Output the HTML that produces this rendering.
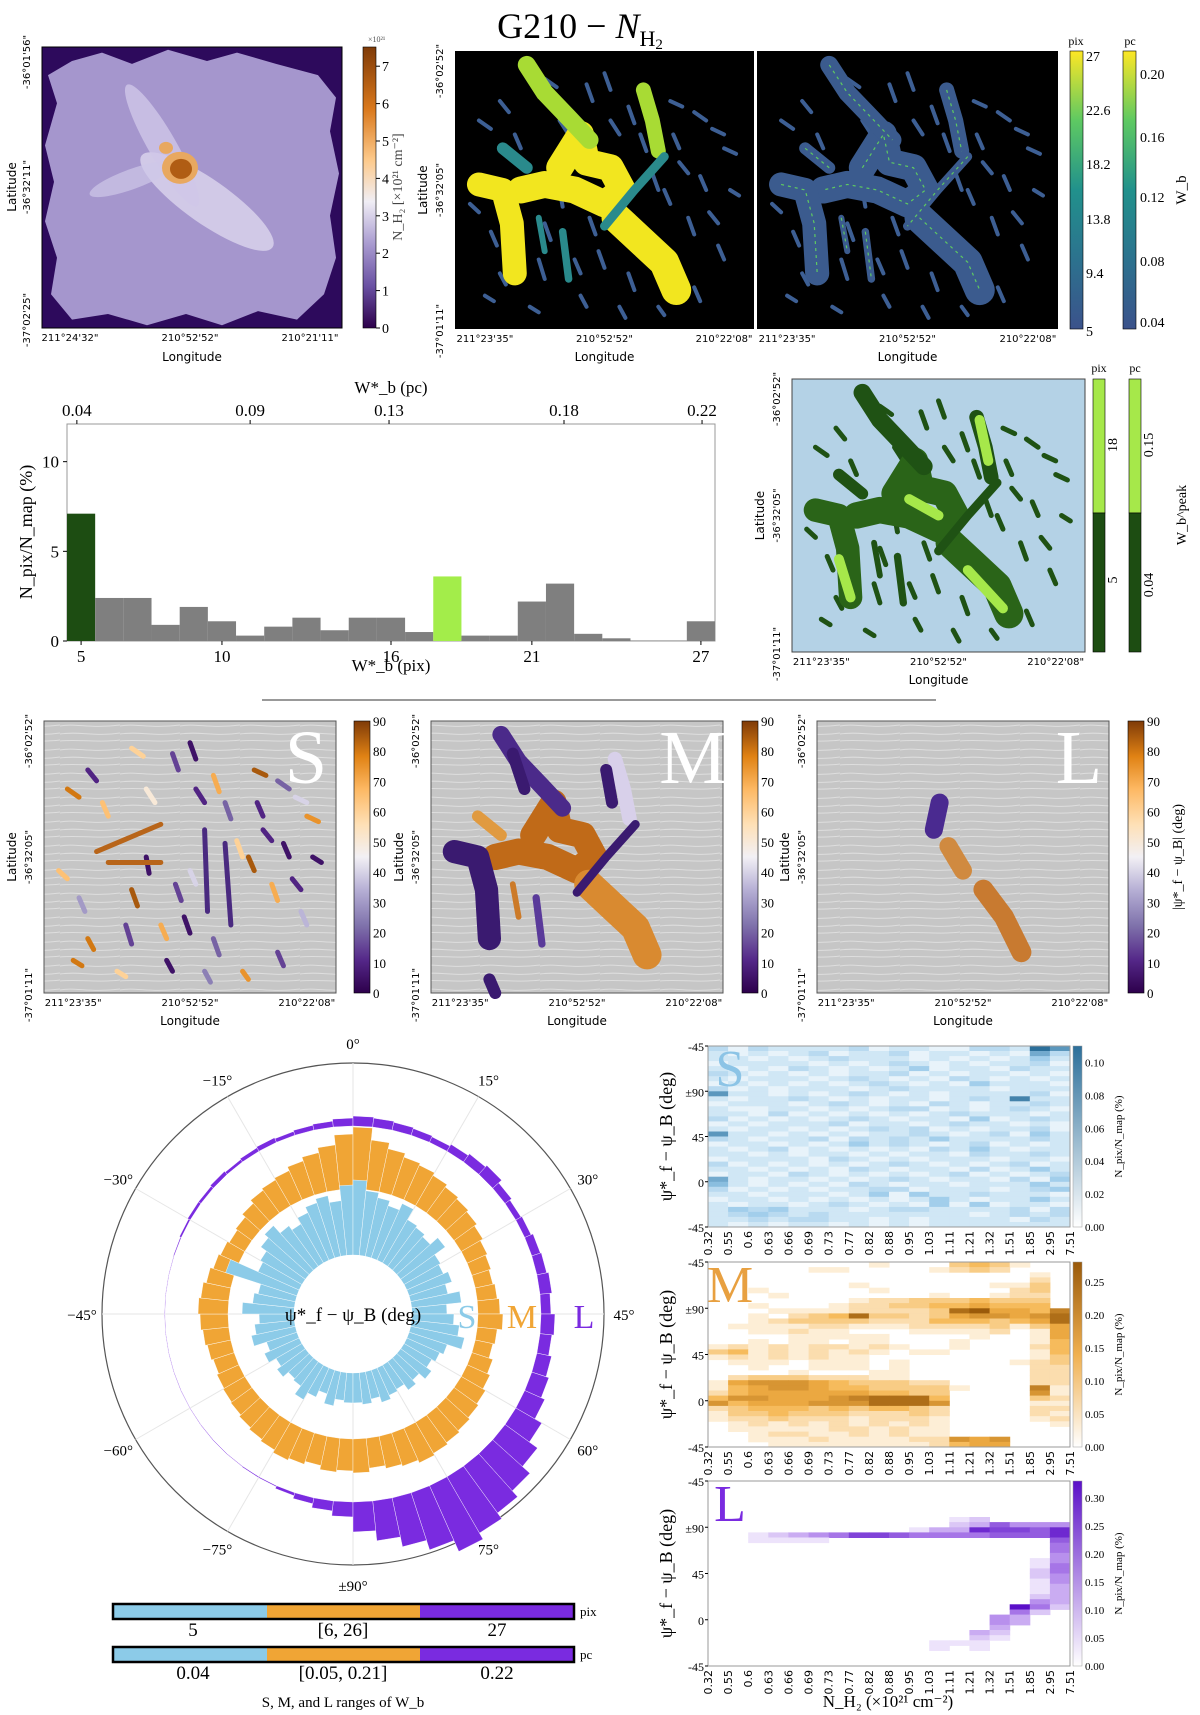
<!DOCTYPE html>
<html><head><meta charset="utf-8">
<style>
html,body{margin:0;padding:0;background:#fff}
svg{display:block}
.serif{font-family:"Liberation Serif","DejaVu Serif",serif}
.sans{font-family:"DejaVu Sans","Liberation Sans",sans-serif}
</style></head>
<body>
<svg id="fig" width="1200" height="1715" viewBox="0 0 1200 1715" xmlns="http://www.w3.org/2000/svg">
<defs>
<linearGradient id="puor" x1="0" y1="1" x2="0" y2="0">
<stop offset="0" stop-color="#2d004b"/><stop offset="0.12" stop-color="#542788"/><stop offset="0.25" stop-color="#8073ac"/><stop offset="0.37" stop-color="#b2abd2"/><stop offset="0.5" stop-color="#f2f0f5"/><stop offset="0.62" stop-color="#fee0b6"/><stop offset="0.75" stop-color="#fdb863"/><stop offset="0.87" stop-color="#e08214"/><stop offset="1" stop-color="#7f3b08"/>
</linearGradient>
<linearGradient id="puor1" x1="0" y1="1" x2="0" y2="0">
<stop offset="0" stop-color="#2d004b"/><stop offset="0.15" stop-color="#6a51a3"/><stop offset="0.3" stop-color="#a99bd0"/><stop offset="0.45" stop-color="#f0eef5"/><stop offset="0.6" stop-color="#fdc98a"/><stop offset="0.78" stop-color="#d9781c"/><stop offset="1" stop-color="#7f3b08"/>
</linearGradient>
<linearGradient id="viridis" x1="0" y1="1" x2="0" y2="0">
<stop offset="0" stop-color="#3b528b"/><stop offset="0.25" stop-color="#2c728e"/><stop offset="0.5" stop-color="#21918c"/><stop offset="0.75" stop-color="#5ec962"/><stop offset="1" stop-color="#fde725"/>
</linearGradient>
<linearGradient id="gBlues" x1="0" y1="1" x2="0" y2="0"><stop offset="0" stop-color="#ffffff"/><stop offset="1" stop-color="#2c6f9a"/></linearGradient>
<linearGradient id="gOr" x1="0" y1="1" x2="0" y2="0"><stop offset="0" stop-color="#ffffff"/><stop offset="0.5" stop-color="#f0b050"/><stop offset="1" stop-color="#9a5a0a"/></linearGradient>
<linearGradient id="gPu" x1="0" y1="1" x2="0" y2="0"><stop offset="0" stop-color="#ffffff"/><stop offset="1" stop-color="#5b10c8"/></linearGradient>
<pattern id="lic" width="60" height="24" patternUnits="userSpaceOnUse">
<rect width="60" height="24" fill="#c6c6c6"/>
<path d="M0 6 C15 3 30 9 60 5 M0 14 C20 11 35 17 60 13 M0 21 C18 19 40 23 60 20" stroke="#dedede" stroke-width="1" fill="none"/>
</pattern>
</defs>

<text class="serif" x="580" y="38" font-size="36" text-anchor="middle">G210 − <tspan font-style="italic">N</tspan><tspan font-size="22" dy="8">H</tspan><tspan font-size="15" dy="3">2</tspan></text>

<g id="row1"></g>
<g id="hist"></g>
<line x1="262" y1="700" x2="936" y2="700" stroke="#999" stroke-width="2"/>
<g id="row3"></g>
<g id="polar"></g>
<g id="legend"></g>
<g id="heat"></g>
</svg>
<script>
// ---------- DATA ----------
const histBins = [5,6,7,8,9,10,11,12,13,14,15,16,17,18,19,20,21,22,23,24,25,26,27];
const histVals = [7.1,2.4,2.4,0.9,1.9,1.1,0.3,0.8,1.3,0.6,1.3,1.3,0.5,3.6,0.3,0.3,2.2,3.2,0.4,0.15,0.03,0.03,1.1];
const histXTicks = [5,10,16,21,27];
const histYTicks = [0,5,10];
const pcTickLabels = ['0.04','0.09','0.13','0.18','0.22'];
const pcTickPix = [4.85,11.0,15.93,22.14,27.04];

const polarS = [30,28,35,25,32,40,30,28,35,30,38,32,45,40,35,52,42,38,75,45,48,55,60,50,45,52,58,62,55,70,75,65,60,55,62,50,48,45,55,42,40,45,38,50,35,42,48,55,40,36,32,38,30,35,28,30,34,28,32,30];
const polarM = [32,34,30,33,35,32,30,28,26,25,24,22,24,26,28,30,28,25,22,20,18,20,24,28,30,32,36,40,45,55,62,50,44,40,38,35,32,30,28,25,22,20,18,20,22,25,20,18,22,25,28,30,32,34,36,38,35,33,30,34];
const polarL = [15,10,6,3,1,1,0,0,0,0,0,0,0,0,0,0,0,0,1,2,3,3,4,3,4,5,4,5,6,8,10,9,8,7,6,8,10,12,8,6,7,9,10,12,10,14,12,15,18,22,30,40,50,58,65,72,60,50,40,30];
const polarLabels = ['0°','15°','30°','45°','60°','75°','±90°','−75°','−60°','−45°','−30°','−15°'];

const heatXLabels = ['0.32','0.55','0.6','0.63','0.66','0.69','0.73','0.77','0.82','0.88','0.95','1.03','1.11','1.21','1.32','1.51','1.85','2.95','7.51'];
const heatYLabels = ['-45','±90','45','0','-45'];
const heatS = ["313222231221133297","212123122312212163","221212322212121242","122221212321212231","212132121241221322","321212122312122121","212221232121321212","121212123212142221","312122212322221222","722121232121222231","212232121221232822","122212321213212232","211221212331212321","221312121212322212","312121232122141232","121222312212322121","212212123231212231","722121212232123142","321223132324222232","122121242321231212","212312121213242122","221212212122132232","122221321212221221","312121212321212312","221212132122131242","122132121212312123","621221212321221314","521212132122122242","312121223312221234","221222124142232221","122121212124212242","212212321214141221","243422212332222313","234323222222212323","223233221212222132","212122121212222222"];
const heatM = ["000000001000343100","000001100001232000","000000000000000010","000000000000000020","000000010000001130","001000001000000230","000100000001001220","000000012233343330","001000122334454440","000111122223895547","001023483323566568","001233332224443458","011112211122223135","001121100011112015","000011111000010015","001011011000100014","121212212100100024","341212121011000014","121212110000000013","011101110100000123","001001110100000022","000010001100000022","023332221100000022","156665433322000022","145665443333100071","245555554433000061","466555678884000032","645556668886000011","234443434432000022","133433322232000021","122322212221000012","012121212121000001","011111221211000000","001221121211000000","001112111122656000","000111111112455000"];
const heatL = ["000000000000000000","000000000000000000","000000000000000000","000000000000000000","000000000000000000","000000000000000000","000000000000000000","000000000000120000","000000000000236444","000000000013387768","001234577655556668","001111000000000006","000000000000000005","000000000000000005","000000000000000004","000000000000000014","000000000000000015","000000000000000025","000000000000000024","000000000000000014","000000000000000013","000000000000000013","000000000000000023","000000000000000043","000000000000000952","000000000000000520","000000000000004300","000000000000004300","000000000000003000","000000000000032000","000000000000021000","000000000001110000","000000000001010000","000000000000000000","000000000000000000","000000000000000000"];

// map shapes (normalized 0-100)
const bigShapes = [
 {pts:[[35,42],[42,30],[44,40],[52,42],[56,50],[50,55],[40,50],[30,48],[22,50]],w:9,c:'y'},
 {pts:[[8,48],[16,50],[19,62],[20,80]],w:8,c:'y'},
 {pts:[[54,60],[62,68],[70,76],[74,86]],w:10,c:'y'},
 {pts:[[24,5],[30,15],[38,24],[45,32]],w:6,c:'g'},
 {pts:[[63,14],[66,25],[68,36]],w:5,c:'g'},
 {pts:[[70,38],[60,50],[50,63]],w:3,c:'t'},
 {pts:[[16,35],[24,42]],w:4,c:'t'},
 {pts:[[36,65],[38,82]],w:2.5,c:'t'},
 {pts:[[28,60],[30,72]],w:2,c:'t'}
];
const smallShapes = [[8,25,12,28],[15,18,18,22],[30,10,34,13],[44,12,46,18],[50,8,52,14],[58,20,60,26],[72,18,76,20],[80,22,84,25],[86,28,90,30],[90,35,94,37],[75,40,78,44],[82,45,84,50],[5,55,8,58],[12,65,14,70],[30,62,32,68],[45,60,47,66],[48,72,50,78],[58,80,60,86],[78,60,80,66],[85,58,88,62],[88,70,90,75],[10,88,13,90],[25,92,28,94],[42,88,44,92],[68,92,70,95],[80,85,82,90],[35,25,38,30],[52,25,55,30],[70,50,72,55],[62,30,64,36],[20,30,22,35],[92,50,95,52],[40,75,42,80],[28,75,30,82],[15,80,17,84],[50,55,52,60],[73,30,75,35],[66,44,68,50],[55,92,57,96],[35,50,36,56]];
const smallAngles = [80,10,60,15,5,70,85,20,40,75,10,5,65,30,85,15,5,20,70,10,35,80,60,5,75,15,50,10,85,20,65,5,70,15,80,40,10,60,25,5];

// ---------- HELPERS ----------
const NS='http://www.w3.org/2000/svg';
function mk(parent,tag,attrs,text){const e=document.createElementNS(NS,tag);for(const k in attrs)e.setAttribute(k,attrs[k]);if(text!==undefined)e.textContent=text;parent.appendChild(e);return e;}
function puor(v){
 const st=[[0,[45,0,75]],[0.12,[84,39,136]],[0.25,[128,115,172]],[0.37,[178,171,210]],[0.5,[242,240,245]],[0.62,[254,224,182]],[0.75,[253,184,99]],[0.87,[224,130,20]],[1,[127,59,8]]];
 for(let i=1;i<st.length;i++){if(v<=st[i][0]){const t=(v-st[i-1][0])/(st[i][0]-st[i-1][0]);const a=st[i-1][1],b=st[i][1];return 'rgb('+a.map((x,j)=>Math.round(x+(b[j]-x)*t)).join(',')+')';}}
 return 'rgb(127,59,8)';
}
function lerpCol(a,b,t){return 'rgb('+a.map((x,j)=>Math.round(x+(b[j]-x)*t)).join(',')+')';}
function col3(mid,dark,t){return t<0.5?lerpCol([255,255,255],mid,t*2):lerpCol(mid,dark,(t-0.5)*2);}
function txt(p,x,y,s,size,opts){opts=opts||{};const e=mk(p,'text',{x:x,y:y,'font-size':size,'text-anchor':opts.anchor||'middle','class':opts.cls||'serif',fill:opts.fill||'#000'},s);if(opts.rot!==undefined)e.setAttribute('transform','rotate('+opts.rot+' '+x+' '+y+')');return e;}
function P(box,nx,ny){return [box.x+nx/100*box.w, box.y+ny/100*box.h];}
function pline(box,pts){return pts.map(p=>P(box,p[0],p[1]).join(',')).join(' ');}

// ---------- ROW 1 ----------
const r1=document.getElementById('row1');
(function(){
 const b={x:42,y:47,w:300,h:281};
 const g=mk(r1,'g',{});
 
 
 mk(g,'rect',{x:b.x,y:b.y,width:b.w,height:b.h,fill:'#2d0a5c'});
 const outline=[[10,5],[20,2],[30,6],[42,1],[55,5],[65,2],[78,6],[92,10],[98,18],[96,30],[99,45],[96,60],[98,75],[94,88],[85,97],[72,94],[60,99],[48,95],[35,99],[22,95],[10,97],[3,88],[5,75],[1,62],[4,48],[1,35],[5,20],[2,10]];
 mk(g,'polygon',{points:pline(b,outline),fill:'#a596cd'});
 mk(g,'ellipse',{cx:b.x+0.55*b.w,cy:b.y+0.55*b.h,rx:80,ry:22,fill:'#dcd6ee',opacity:0.8,transform:'rotate(35 '+(b.x+0.55*b.w)+' '+(b.y+0.55*b.h)+')'});
 mk(g,'ellipse',{cx:b.x+0.4*b.w,cy:b.y+0.35*b.h,rx:70,ry:14,fill:'#cfc7e8',opacity:0.8,transform:'rotate(60 '+(b.x+0.4*b.w)+' '+(b.y+0.35*b.h)+')'});
 mk(g,'ellipse',{cx:b.x+0.3*b.w,cy:b.y+0.47*b.h,rx:45,ry:10,fill:'#cfc7e8',opacity:0.7,transform:'rotate(-20 '+(b.x+0.3*b.w)+' '+(b.y+0.47*b.h)+')'});
 const oc=P(b,46,43);
 mk(g,'ellipse',{cx:oc[0],cy:oc[1],rx:18,ry:16,fill:'#e8a860'});
 mk(g,'ellipse',{cx:oc[0]-14,cy:oc[1]-20,rx:7,ry:6,fill:'#e8a860'});
 mk(g,'ellipse',{cx:oc[0]+1,cy:oc[1]+1,rx:11,ry:10,fill:'#b05d14'});
 mk(g,'rect',{x:b.x,y:b.y,width:b.w,height:b.h,fill:'none',stroke:'#000','stroke-width':1});
 const cb=mk(r1,'rect',{x:363,y:47,width:13,height:281,fill:'url(#puor1)',stroke:'#000','stroke-width':0.6});
 
 
 for(let v=0;v<=7;v++){const y=328-v*37.4;mk(r1,'line',{x1:376,x2:380,y1:y,y2:y,stroke:'#000'});txt(r1,382,y+5,String(v),14,{anchor:'start'});}
 txt(r1,368,42,'×10²¹',8,{anchor:'start',fill:'#555'});
 txt(r1,402,187,'N_H₂ [×10²¹ cm⁻²]',14,{rot:-90,fill:'#444'});
 txt(r1,30,62,'-36°01\'56"',10,{rot:-90,cls:'sans'});
 txt(r1,30,187,'-36°32\'11"',10,{rot:-90,cls:'sans'});
 txt(r1,30,320,'-37°02\'25"',10,{rot:-90,cls:'sans'});
 txt(r1,16,187,'Latitude',12,{rot:-90,cls:'sans'});
 [['211°24\'32"',70],['210°52\'52"',190],['210°21\'11"',310]].forEach(t=>txt(r1,t[1],341,t[0],10,{cls:'sans'}));
 txt(r1,192,361,'Longitude',12,{cls:'sans'});
})();

function drawShapes(g,b,colBig,colSmall,opts){
 opts=opts||{};
 smallShapes.forEach((s,i)=>{
  const p1=P(b,s[0],s[1]),p2=P(b,s[2],s[3]);
  const l=mk(g,'line',{x1:p1[0],y1:p1[1],x2:p2[0],y2:p2[1],stroke:typeof colSmall==='function'?colSmall(i):colSmall,'stroke-width':opts.sw||4,'stroke-linecap':'round'});
  
  
 });
 if(opts.noBig)return;
 bigShapes.forEach((s,i)=>{
  const pl=mk(g,'polyline',{points:pline(b,s.pts),fill:'none',stroke:colBig(s,i),'stroke-width':s.w*b.w/100,'stroke-linecap':'round','stroke-linejoin':'round'});
  
  
 });
}
function mapAxes(p,b){
 txt(p,b.x-12,b.y+20,'-36°02\'52"',10,{rot:-90,cls:'sans'});
 txt(p,b.x-12,b.y+b.h*0.5,'-36°32\'05"',10,{rot:-90,cls:'sans'});
 txt(p,b.x-12,b.y+b.h+2,'-37°01\'11"',10,{rot:-90,cls:'sans'});
 txt(p,b.x-28,b.y+b.h*0.5,'Latitude',12,{rot:-90,cls:'sans'});
 [['211°23\'35"',0.1],['210°52\'52"',0.5],['210°22\'08"',0.9]].forEach(t=>txt(p,b.x+b.w*t[1],b.y+b.h+13,t[0],10,{cls:'sans'}));
 txt(p,b.x+b.w*0.5,b.y+b.h+32,'Longitude',12,{cls:'sans'});
}
(function(){
 const b2={x:455,y:51,w:299,h:278};
 const g2=mk(r1,'g',{});
 
 
 mk(g2,'rect',{x:b2.x,y:b2.y,width:b2.w,height:b2.h,fill:'#000'});
 drawShapes(g2,b2,s=>s.c==='y'?'#f2e61f':s.c==='g'?'#a8db34':'#2a8a8c','#3d5f94');
 mapAxes(r1,b2);
 const b3={x:757,y:51,w:301,h:278};
 const g3=mk(r1,'g',{});
 
 
 mk(g3,'rect',{x:b3.x,y:b3.y,width:b3.w,height:b3.h,fill:'#000'});
 drawShapes(g3,b3,s=>'#3b5b8e','#3d5f94');
 bigShapes.forEach(s=>{mk(g3,'polyline',{points:pline(b3,s.pts),fill:'none',stroke:'#5ec962','stroke-width':1.2,'stroke-dasharray':'3 4'});});
 [['211°23\'35"',0.1],['210°52\'52"',0.5],['210°22\'08"',0.9]].forEach(t=>txt(r1,b3.x+b3.w*t[1],b3.y+b3.h+13,t[0],10,{cls:'sans'}));
 txt(r1,b3.x+b3.w*0.5,b3.y+b3.h+32,'Longitude',12,{cls:'sans'});
 const c1=mk(r1,'rect',{x:1070,y:51,width:13,height:278,fill:'url(#viridis)',stroke:'#000','stroke-width':0.6});
 
 
 const c2=mk(r1,'rect',{x:1123,y:51,width:13,height:278,fill:'url(#viridis)',stroke:'#000','stroke-width':0.6});
 
 
 txt(r1,1076,45,'pix',12);txt(r1,1130,45,'pc',12);
 [['27',56],['22.6',110],['18.2',164],['13.8',219],['9.4',273],['5',331]].forEach(t=>txt(r1,1086,t[1]+5,t[0],14,{anchor:'start'}));
 [['0.20',74],['0.16',137],['0.12',197],['0.08',261],['0.04',322]].forEach(t=>txt(r1,1140,t[1]+5,t[0],14,{anchor:'start'}));
 txt(r1,1186,190,'W_b',15,{rot:-90});
})();

(function(){
 const b={x:792,y:379,w:293,h:273};
 const g=mk(r1,'g',{});
 
 
 mk(g,'rect',{x:b.x,y:b.y,width:b.w,height:b.h,fill:'#b4d2e6',stroke:'#444','stroke-width':1});
 drawShapes(g,b,s=>s.c==='y'?'#2a6418':'#1f5214','#1f5214',{sw:5});
 [[[16,66],[20,80]],[[60,70],[72,84]],[[64,15],[67,30]],[[40,44],[50,50]]].forEach(q=>{mk(g,'polyline',{points:pline(b,q),fill:'none',stroke:'#a6e84a','stroke-width':10,'stroke-linecap':'round'});});
 mapAxes(r1,b);
 const c1=mk(r1,'rect',{x:1093,y:379,width:12,height:134,fill:'#a6e84a',stroke:'#000','stroke-width':0.6});
 
 
 mk(r1,'rect',{x:1093,y:513,width:12,height:139,fill:'#1d4d12',stroke:'#000','stroke-width':0.6});
 mk(r1,'rect',{x:1129,y:379,width:12,height:134,fill:'#a6e84a',stroke:'#000','stroke-width':0.6});
 mk(r1,'rect',{x:1129,y:513,width:12,height:139,fill:'#1d4d12',stroke:'#000','stroke-width':0.6});
 txt(r1,1099,372,'pix',12);txt(r1,1135,372,'pc',12);
 txt(r1,1117,445,'18',14,{rot:-90});txt(r1,1117,580,'5',14,{rot:-90});
 txt(r1,1153,445,'0.15',14,{rot:-90});txt(r1,1153,585,'0.04',14,{rot:-90});
 txt(r1,1186,515,'W_b^peak',14,{rot:-90});
})();

// ---------- HISTOGRAM ----------
(function(){
 const h=document.getElementById('hist');
 const X0=67,X1=715,Y0=641,Y1=424,xmin=4.5,xmax=27.5,ymax=12.1;
 const xs=v=>X0+(v-xmin)/(xmax-xmin)*(X1-X0);
 const ys=v=>Y0-v/ymax*(Y0-Y1);
 mk(h,'rect',{x:X0,y:Y1,width:X1-X0,height:Y0-Y1,fill:'#fff',stroke:'#999','stroke-width':1});
 histBins.forEach((bn,i)=>{
  const col=bn===5?'#1d4d12':(bn===18?'#a3ed4a':'#7f7f7f');
  const r=mk(h,'rect',{x:xs(bn-0.5),y:ys(histVals[i]),width:xs(bn+0.5)-xs(bn-0.5),height:Y0-ys(histVals[i]),fill:col});
  
  
 });
 histXTicks.forEach(t=>{mk(h,'line',{x1:xs(t),x2:xs(t),y1:Y0,y2:Y0+4,stroke:'#000'});txt(h,xs(t),Y0+21,String(t),17);});
 histYTicks.forEach(t=>{mk(h,'line',{x1:X0-4,x2:X0,y1:ys(t),y2:ys(t),stroke:'#000'});txt(h,X0-8,ys(t)+6,String(t),17,{anchor:'end'});});
 pcTickPix.forEach((p,i)=>{mk(h,'line',{x1:xs(p),x2:xs(p),y1:Y1-4,y2:Y1,stroke:'#000'});txt(h,xs(p),Y1-8,pcTickLabels[i],17);});
 txt(h,391,671,'W*_b (pix)',17);
 txt(h,391,393,'W*_b (pc)',17);
 txt(h,32,532,'N_pix/N_map (%)',18,{rot:-90});
})();

// ---------- ROW 3 ----------
(function(){
 const r3=document.getElementById('row3');
 const panels=[{x:44,cb:354,k:'S'},{x:431,cb:742,k:'M'},{x:817,cb:1128,k:'L'}];
 panels.forEach(pp=>{
  const b={x:pp.x,y:721,w:292,h:272};
  const g=mk(r3,'g',{});
  
  
  mk(g,'rect',{x:b.x,y:b.y,width:b.w,height:b.h,fill:'url(#lic)',stroke:'#555','stroke-width':1});
  if(pp.k==='S'){
   drawShapes(g,b,null,i=>puor(smallAngles[i]/90),{noBig:true,sw:5});
   [[[18,48],[40,38]],[[22,52],[40,52]],[[55,40],[56,70]],[[62,45],[64,75]]].forEach((q,i)=>mk(g,'polyline',{points:pline(b,q),fill:'none',stroke:i<2?'#b8651a':'#4a2a80','stroke-width':5,'stroke-linecap':'round'}));
  } else if(pp.k==='M'){
   const cols=['#c06a18','#3a1a70','#d98a30','#4b2a8a','#d8d0ea','#3a1a70','#e09a40','#5a3a9a','#cc7a28'];
   bigShapes.forEach((s,i)=>mk(g,'polyline',{points:pline(b,s.pts),fill:'none',stroke:cols[i%cols.length],'stroke-width':s.w*2.9,'stroke-linecap':'round','stroke-linejoin':'round'}));
   [[[28,12],[32,25]],[[60,18],[62,30]],[[20,95],[22,100]]].forEach(q=>mk(g,'polyline',{points:pline(b,q),fill:'none',stroke:'#3a1a70','stroke-width':12,'stroke-linecap':'round'}));
  } else {
   mk(g,'polyline',{points:pline(b,[[42,30],[40,40]]),fill:'none',stroke:'#4a2a90','stroke-width':18,'stroke-linecap':'round'});
   mk(g,'polyline',{points:pline(b,[[45,46],[50,55]]),fill:'none',stroke:'#d08a40','stroke-width':18,'stroke-linecap':'round'});
   mk(g,'polyline',{points:pline(b,[[57,62],[64,72],[70,85]]),fill:'none',stroke:'#c87a30','stroke-width':20,'stroke-linecap':'round'});
  }
  txt(g,b.x+b.w-30,b.y+62,pp.k,76,{fill:'#fff'});
  mapAxes(r3,b);
  const cb=mk(r3,'rect',{x:pp.cb,y:721,width:16,height:272,fill:'url(#puor)',stroke:'#000','stroke-width':0.6});
  
  
  for(let v=0;v<=90;v+=10){const y=993-v/90*272;txt(r3,pp.cb+19,y+5,String(v),13,{anchor:'start'});}
 });
 txt(r3,1182,857,'|ψ*_f − ψ_B| (deg)',14,{rot:-90});
})();

// ---------- POLAR ----------
(function(){
 const p=document.getElementById('polar');
 const cx=353,cy=1314,R=251;
 mk(p,'circle',{cx:cx,cy:cy,r:R,fill:'#fff',stroke:'#555','stroke-width':1.2});
 for(let a=0;a<360;a+=30){const t=a*Math.PI/180;mk(p,'line',{x1:cx,y1:cy,x2:cx+R*Math.sin(t),y2:cy-R*Math.cos(t),stroke:'#e6e6e6','stroke-width':1});}
 mk(p,'line',{x1:cx-R,y1:cy,x2:cx+R,y2:cy,stroke:'#e6e6e6'});
 function ring(vals,base,col,name){
  vals.forEach((v,i)=>{
   const psi=-90+3*i+1.5;const a0=(2*psi-3)*Math.PI/180,a1=(2*psi+3)*Math.PI/180;
   const r1=base,r2=base+Math.max(v,0.6);
   const pt=(r,a)=>(cx+r*Math.sin(a)).toFixed(1)+','+(cy-r*Math.cos(a)).toFixed(1);
   const e=mk(p,'polygon',{points:[pt(r1,a0),pt(r2,a0),pt(r2,a1),pt(r1,a1)].join(' '),fill:col,stroke:'#fff','stroke-width':0.4});
   
   
  });
 }
 ring(polarL,188,'#7a2be0','polar-L');
 ring(polarM,125,'#f0a535','polar-M');
 ring(polarS,59,'#8ccbe8','polar-S');
 mk(p,'circle',{cx:cx,cy:cy,r:59,fill:'#fff'});
 polarLabels.forEach((l,i)=>{const t=i*30*Math.PI/180;const rr=R+20;txt(p,cx+rr*Math.sin(t),cy-rr*Math.cos(t)+6,l,15);});
 txt(p,cx,cy+7,'ψ*_f − ψ_B (deg)',19);
 txt(p,467,1328,'S',34,{fill:'#8ccbe8'});
 txt(p,522,1328,'M',34,{fill:'#f0a535'});
 txt(p,584,1328,'L',34,{fill:'#7a2be0'});
})();

// ---------- LEGEND ----------
(function(){
 const g=document.getElementById('legend');
 const segs=[['#8ccbe8',113,267],['#f0a535',267,420],['#7a2be0',420,574]];
 [[1604,'pix',['5','[6, 26]','27'],1636],[1647,'pc',['0.04','[0.05, 0.21]','0.22'],1679]].forEach(row=>{
  segs.forEach(s=>mk(g,'rect',{x:s[1],y:row[0],width:s[2]-s[1],height:15,fill:s[0]}));
  const fr=mk(g,'rect',{x:113,y:row[0],width:461,height:15,fill:'none',stroke:'#000','stroke-width':2.5});
  
  
  txt(g,580,row[0]+12,row[1],13,{anchor:'start'});
  [193,343,497].forEach((x,i)=>txt(g,x,row[3],row[2][i],19));
 });
 txt(g,343,1707,'S, M, and L ranges of W_b',15);
})();

// ---------- HEATMAPS ----------
(function(){
 const h=document.getElementById('heat');
 const X0=708,X1=1070;
 const defs=[{d:heatS,y0:1046,y1:1227,mid:[150,200,232],c:[44,111,154],grad:'gBlues',k:'S',fc:'#8cc4e6',cb:['0.00','0.02','0.04','0.06','0.08','0.10'],cmax:0.11},
  {d:heatM,y0:1262,y1:1447,mid:[245,178,72],c:[154,90,10],grad:'gOr',k:'M',fc:'#e8a040',cb:['0.00','0.05','0.10','0.15','0.20','0.25'],cmax:0.28},
  {d:heatL,y0:1481,y1:1666,mid:[175,130,235],c:[91,16,200],grad:'gPu',k:'L',fc:'#7a2be0',cb:['0.00','0.05','0.10','0.15','0.20','0.25','0.30'],cmax:0.33}];
 defs.forEach(D=>{
  const g=mk(h,'g',{});
  
  
  const nr=D.d.length,nc=heatXLabels.length-1;
  const cw=(X1-X0)/nc,ch=(D.y1-D.y0)/nr;
  mk(g,'rect',{x:X0,y:D.y0,width:X1-X0,height:D.y1-D.y0,fill:'#fff'});
  D.d.forEach((row,r)=>{for(let c=0;c<nc;c++){const v=parseInt(row[c]||'0');if(!v)continue;
   const cell=mk(g,'rect',{x:(X0+c*cw).toFixed(1),y:(D.y0+r*ch).toFixed(1),width:(cw+0.5).toFixed(1),height:(ch+0.5).toFixed(1),fill:col3(D.mid,D.c,v/9)});
   
   }});
  mk(g,'rect',{x:X0,y:D.y0,width:X1-X0,height:D.y1-D.y0,fill:'none',stroke:'#999'});
  heatYLabels.forEach((l,i)=>{const y=D.y0+i*(D.y1-D.y0)/4;mk(h,'line',{x1:X0-3,x2:X0,y1:y,y2:y,stroke:'#000'});txt(h,X0-4,y+5,l,12,{anchor:'end'});});
  heatXLabels.forEach((l,i)=>{const x=X0+i*cw;txt(h,x+4,D.y1+4,l,11,{anchor:'end',cls:'sans',rot:-90});});
  txt(h,672,(D.y0+D.y1)/2,'ψ*_f − ψ_B (deg)',18,{rot:-90});
  txt(h,X0+22,D.y0+40,D.k,52,{fill:D.fc});
  const cb=mk(h,'rect',{x:1073,y:D.y0,width:9,height:D.y1-D.y0,fill:'url(#'+D.grad+')',stroke:'#999','stroke-width':0.5});
  
  
  D.cb.forEach(l=>{const y=D.y1-parseFloat(l)/D.cmax*(D.y1-D.y0);txt(h,1085,y+4,l,11,{anchor:'start'});});
  txt(h,1122,(D.y0+D.y1)/2,'N_pix/N_map (%)',11,{rot:-90});
 });
 txt(h,888,1707,'N_H₂ (×10²¹ cm⁻²)',17);
})();
</script>
</body></html>
